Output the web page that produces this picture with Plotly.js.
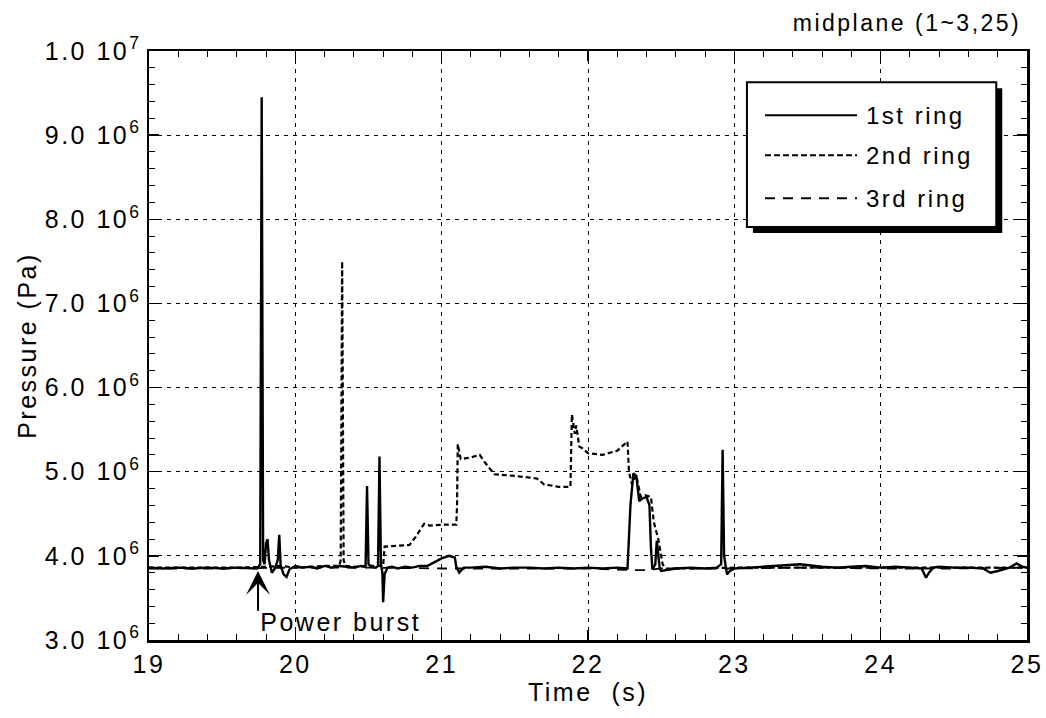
<!DOCTYPE html>
<html>
<head>
<meta charset="utf-8">
<script src="https://cdn.plot.ly/plotly-3.0.1.min.js"></script>
<style>
html,body{margin:0;padding:0;background:#fff;}
#chart{width:1046px;height:718px;}
#chart svg text{letter-spacing:2.5px;}
</style>
</head>
<body>
<div id="chart"></div>
<script>
// Time (s)
var time1 = [19.0,19.1,19.2,19.3,19.4,19.5,19.6,19.7,19.74,19.76,19.77,19.78,19.79,19.80,19.81,19.82,19.84,19.86,19.88,19.89,19.90,19.92,19.94,19.96,20.0,20.05,20.1,20.15,20.2,20.25,20.3,20.35,20.4,20.45,20.48,20.49,20.5,20.52,20.55,20.565,20.575,20.585,20.595,20.6,20.61,20.63,20.66,20.7,20.75,20.8,20.85,20.9,20.95,21.0,21.05,21.09,21.1,21.12,21.15,21.2,21.3,21.4,21.5,21.6,21.7,21.8,21.9,22.0,22.1,22.2,22.27,22.29,22.31,22.33,22.35,22.37,22.40,22.42,22.43,22.44,22.46,22.47,22.49,22.5,22.6,22.7,22.8,22.88,22.91,22.92,22.93,22.95,22.97,23.0,23.1,23.2,23.3,23.45,23.6,23.7,23.8,23.9,24.0,24.1,24.2,24.28,24.31,24.33,24.36,24.4,24.5,24.6,24.7,24.75,24.8,24.88,24.93,24.97,25.0];
// 1st ring pressure (10^6 Pa)
var ring1 = [3.86,3.85,3.86,3.85,3.86,3.85,3.86,3.85,3.85,3.90,9.45,3.95,3.90,4.15,4.20,3.95,3.80,3.85,3.95,4.25,3.88,3.78,3.75,3.84,3.88,3.86,3.87,3.85,3.88,3.86,3.88,3.87,3.86,3.88,3.87,4.83,3.90,3.87,3.86,3.88,5.18,3.90,3.80,3.45,3.78,3.86,3.87,3.85,3.87,3.86,3.88,3.88,3.93,3.97,4.00,3.98,3.87,3.80,3.86,3.86,3.87,3.85,3.86,3.86,3.85,3.86,3.85,3.86,3.85,3.86,3.85,4.60,4.98,4.95,4.65,4.68,4.70,4.60,4.10,3.84,3.90,4.18,3.85,3.82,3.85,3.86,3.85,3.86,3.90,5.26,4.00,3.78,3.82,3.85,3.86,3.87,3.88,3.90,3.87,3.86,3.87,3.88,3.86,3.87,3.86,3.85,3.74,3.80,3.86,3.87,3.86,3.86,3.85,3.80,3.82,3.86,3.91,3.87,3.86];

var time2 = [19.0,19.3,19.6,19.8,19.9,20.0,20.1,20.2,20.3,20.31,20.32,20.33,20.34,20.4,20.5,20.6,20.61,20.7,20.78,20.82,20.85,20.88,20.92,21.0,21.1,21.105,21.11,21.13,21.2,21.26,21.3,21.36,21.5,21.65,21.7,21.8,21.88,21.89,21.91,21.92,21.94,21.96,22.0,22.1,22.2,22.27,22.28,22.30,22.33,22.36,22.39,22.43,22.45,22.48,22.51,22.53,22.7,23.0,23.5,24.0,24.5,25.0];
// 2nd ring pressure (10^6 Pa)
var ring2 = [3.86,3.86,3.86,3.87,3.88,3.86,3.87,3.88,3.88,3.95,7.50,3.95,3.88,3.87,3.88,3.88,4.11,4.12,4.13,4.22,4.30,4.38,4.36,4.37,4.37,4.60,5.33,5.15,5.17,5.20,5.10,4.97,4.95,4.92,4.85,4.82,4.82,5.68,5.45,5.55,5.30,5.28,5.22,5.20,5.25,5.36,5.00,4.85,4.96,4.70,4.72,4.70,4.40,4.20,3.90,3.85,3.85,3.86,3.86,3.86,3.86,3.86];

var time3 = [19.0,19.5,20.0,20.5,21.0,21.5,22.0,22.3,22.4,22.5,23.0,23.5,24.0,24.5,25.0];
// 3rd ring pressure (10^6 Pa)
var ring3 = [3.85,3.85,3.86,3.86,3.85,3.85,3.85,3.83,3.83,3.85,3.85,3.86,3.85,3.85,3.86];

var seriesNames = ["1st ring","2nd ring","3rd ring"];
var yTickVals = [3,4,5,6,7,8,9,10];
var yTickText = ["3.0 10<sup>6</sup>","4.0 10<sup>6</sup>","5.0 10<sup>6</sup>","6.0 10<sup>6</sup>","7.0 10<sup>6</sup>","8.0 10<sup>6</sup>","9.0 10<sup>6</sup>","1.0 10<sup>7</sup>"];
var xTickVals = [19,20,21,22,23,24,25];

var FONT = "Liberation Sans, Arial, sans-serif";
var dashes = ["solid","5px,3px","10px,8px"];
var legendDashes = ["solid","6px,3px","10px,8px"];
var widths = [2.4,2.2,1.8];

var traces = [
  {x: time1, y: ring1, name: seriesNames[0]},
  {x: time2, y: ring2, name: seriesNames[1]},
  {x: time3, y: ring3, name: seriesNames[2]}
].map(function(t,i){
  t.type = "scatter"; t.mode = "lines"; t.showlegend = false;
  t.line = {color: "#000", width: widths[i], dash: dashes[i]};
  return t;
});
// draw order: 3rd, 2nd, 1st
traces = [traces[2], traces[1], traces[0]];

// custom legend (paper coords)
var lx0 = 0.681, lx1 = 0.965, ly0 = 0.701, ly1 = 0.947;
var sx = 6/878, sy = 6/588;
var rowY = [0.891, 0.823, 0.750];
var shapes = [
  {type:"rect", xref:"paper", yref:"paper", x0:lx0+sx, x1:lx1+sx, y0:ly0-sy, y1:ly1-sy, fillcolor:"#000", line:{width:0}},
  {type:"rect", xref:"paper", yref:"paper", x0:lx0, x1:lx1, y0:ly0, y1:ly1, fillcolor:"#fff", line:{color:"#000", width:2}}
];
var annotations = [];
for (var i=0;i<3;i++){
  shapes.push({type:"line", xref:"paper", yref:"paper", x0:0.7016, x1:0.8064, y0:rowY[i], y1:rowY[i], line:{color:"#000", width:2, dash:legendDashes[i]}});
  annotations.push({xref:"paper", yref:"paper", x:0.826, y:rowY[i], text:seriesNames[i], showarrow:false, xanchor:"left", yanchor:"middle", font:{family:FONT, size:24, color:"#000"}});
}
annotations.push({xref:"paper", yref:"paper", x:0.9715, y:1.0476, text:"midplane (1~3,25)", showarrow:false, xanchor:"right", yanchor:"middle", font:{family:FONT, size:23, color:"#000"}});
annotations.push({x:20.31, y:3.21, xref:"x", yref:"y", text:"Power burst", showarrow:false, xanchor:"center", yanchor:"middle", font:{family:FONT, size:25, color:"#000"}});
annotations.push({x:19.745, y:3.82, xref:"x", yref:"y", ax:19.745, ay:3.33, axref:"x", ayref:"y", text:"", showarrow:true, arrowhead:3, arrowsize:2, arrowwidth:2, arrowcolor:"#000"});

var layout = {
  width: 1046, height: 718,
  margin: {l:149, r:19, t:51, b:78},
  paper_bgcolor: "#fff", plot_bgcolor: "#fff",
  font: {family: FONT, color: "#000"},
  xaxis: {
    range: [19,25], tickvals: xTickVals, ticks: "inside", ticklen: 10, tickwidth: 1.5, tickcolor:"#000",
    showline: true, linecolor: "#000", linewidth: 2.5, mirror: "ticks",
    showgrid: true, gridcolor: "#000", gridwidth: 1, griddash: "4px,5px",
    zeroline: false, tickfont: {family: FONT, size: 25},
    minor: {dtick: 0.2, ticks: "inside", ticklen: 6, tickcolor: "#000", tickwidth: 1, showgrid: false},
    title: {text: "Time  (s)", font: {family: FONT, size: 25}, standoff: 4}
  },
  yaxis: {
    range: [3,10], tickvals: yTickVals, ticktext: yTickText, ticks: "inside", ticklen: 10, tickwidth: 1.5, tickcolor:"#000",
    showline: true, linecolor: "#000", linewidth: 2.5, mirror: "ticks",
    showgrid: true, gridcolor: "#000", gridwidth: 1, griddash: "4px,5px",
    zeroline: false, tickfont: {family: FONT, size: 25},
    minor: {dtick: 0.2, ticks: "inside", ticklen: 6, tickcolor: "#000", tickwidth: 1, showgrid: false},
    title: {text: "Pressure (Pa)", font: {family: FONT, size: 25}, standoff: 19}
  },
  shapes: shapes,
  annotations: annotations
};

Plotly.newPlot("chart", traces, layout, {displayModeBar: false, staticPlot: true});
</script>
</body>
</html>
